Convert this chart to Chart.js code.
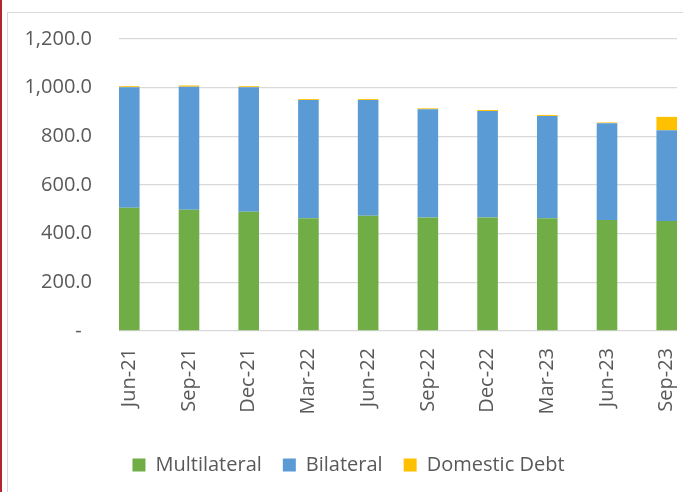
<!DOCTYPE html>
<html>
<head>
<meta charset="utf-8">
<script src="https://cdn.jsdelivr.net/npm/chart.js@4.4.1/dist/chart.umd.min.js"></script>
<style>
  html, body { margin: 0; padding: 0; background: #ffffff; overflow: hidden; }
  body { width: 683px; height: 492px; position: relative; }
  #redline { position: absolute; left: 0; top: 0; width: 2px; height: 492px; background: #b3262d; }
  #frame { position: absolute; left: 7px; top: 12px; width: 700px; height: 500px; border: 1px solid #d9d9d9; box-sizing: border-box; }
  #c { position: absolute; left: 0; top: 0; }
</style>
</head>
<body>
<div id="redline"></div>
<div id="frame"></div>
<canvas id="c" width="683" height="492"></canvas>
<script>
const categories = ['Jun-21','Sep-21','Dec-21','Mar-22','Jun-22','Sep-22','Dec-22','Mar-23','Jun-23','Sep-23'];
const multilateral = [506, 498, 490, 463, 474, 466, 466, 463, 456, 452];
const bilateral    = [496, 506, 512, 486, 475, 445, 438, 421, 398, 373];
const domesticDebt = [4, 5, 4, 4, 4, 4, 4, 4, 3, 55];
const yTickValues = [0, 200, 400, 600, 800, 1000, 1200];
const yTickLabels = ['-  ', '200.0', '400.0', '600.0', '800.0', '1,000.0', '1,200.0'];

const toPoints = arr => arr.map((v, i) => ({ x: i, y: v }));
const FONT = "'Open Sans', 'DejaVu Sans', sans-serif";
const TEXT = '#595959';

new Chart(document.getElementById('c'), {
  type: 'bar',
  data: {
    datasets: [
      { label: 'Multilateral', data: toPoints(multilateral), backgroundColor: '#70AD47' },
      { label: 'Bilateral', data: toPoints(bilateral), backgroundColor: '#5B9BD5' },
      { label: 'Domestic Debt', data: toPoints(domesticDebt), backgroundColor: '#FFC000' }
    ]
  },
  options: {
    responsive: false,
    animation: false,
    devicePixelRatio: 1,
    categoryPercentage: 1,
    barPercentage: 0.345,
    layout: { padding: { left: 20, right: 6, top: 39, bottom: 7 } },
    plugins: {
      tooltip: { enabled: false },
      legend: {
        position: 'bottom',
        labels: {
          boxWidth: 13, boxHeight: 13, padding: 21,
          color: TEXT, font: { family: FONT, size: 20 }
        }
      }
    },
    scales: {
      x: {
        type: 'linear',
        stacked: true,
        offset: false,
        min: -0.172,
        max: 9.172,
        grid: { display: false, drawTicks: false, offset: false },
        border: { display: false },
        afterBuildTicks: axis => { axis.ticks = categories.map((c, i) => ({ value: i })); },
        afterFit: axis => { axis.height = 103; axis.paddingLeft = 0; axis.paddingRight = 0; },
        ticks: {
          minRotation: 90, maxRotation: 90, autoSkip: false,
          padding: 17, color: TEXT, font: { family: FONT, size: 20 },
          callback: v => categories[v]
        }
      },
      y: {
        stacked: true,
        min: 0, max: 1200,
        afterBuildTicks: axis => { axis.ticks = yTickValues.map(v => ({ value: v })); },
        afterFit: axis => { axis.width = 99; },
        grid: { color: '#d9d9d9', lineWidth: 1.3, drawTicks: false },
        border: { display: false },
        ticks: {
          padding: 27, color: TEXT, font: { family: FONT, size: 20 },
          callback: (v) => yTickLabels[yTickValues.indexOf(v)]
        }
      }
    }
  }
});
</script>
</body>
</html>
